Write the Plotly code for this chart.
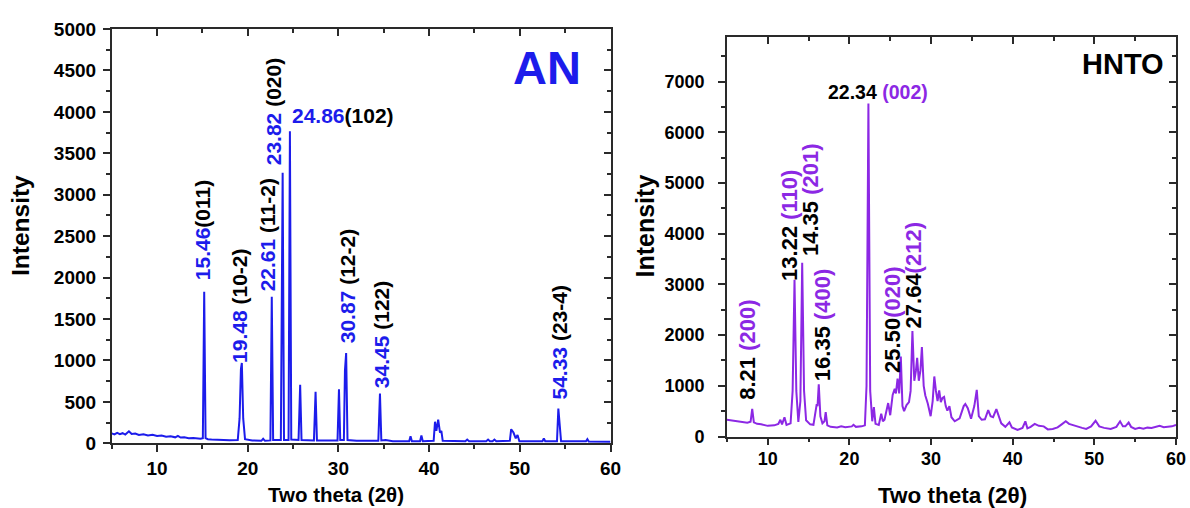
import plotly.graph_objects as go

W, H = 1190, 508

# ---------------- AN pattern (left) ----------------
an_theta = [5.0, 5.3, 5.6, 5.9, 6.2, 6.5, 6.9, 7.2, 7.6, 8.0, 8.5, 9.0, 9.5, 10.0, 10.5, 11.0,
            11.5, 12.0, 12.3, 12.6, 13.0, 13.5, 14.0, 14.5, 14.8, 15.05,
            15.2, 15.35, 15.6, 16.0, 17.0, 18.0, 18.9, 19.1, 19.25, 19.35, 19.5, 19.7, 20.5,
            21.5, 21.7, 21.9, 22.5, 22.65, 22.8, 23.65, 23.85, 24.0, 24.5, 24.65, 24.8, 25.6,
            25.78, 25.93, 27.3, 27.48, 27.63, 29.9, 30.06, 30.2, 30.6, 30.72, 30.85, 31.0,
            32.0, 34.4, 34.58, 34.73, 35.2, 36.0, 37.8, 37.95, 38.1, 39.0, 39.15, 39.3, 40.5,
            40.65, 40.8, 41.0, 41.2, 41.35, 41.5, 44.0, 44.2, 44.4, 46.3, 46.5, 46.7, 47.0,
            47.2, 47.4, 48.9, 49.05, 49.3, 49.55, 49.75, 49.95, 52.5, 52.65, 52.8, 54.1, 54.25,
            54.4, 54.55, 57.3, 57.45, 57.6, 60.0]
an_counts = [120, 108, 126, 110, 122, 105, 145, 112, 118, 100, 110, 95, 102, 88, 95, 80,
             84, 72, 90, 70, 72, 62, 64, 55, 55, 62,
             1830, 62, 50, 45, 40, 38, 40, 300, 900, 970, 300, 50, 35,
             30, 55, 30, 35, 1770, 40, 40, 3265, 40, 40, 3765, 45, 40,
             705, 40, 35, 623, 35, 35, 652, 40, 40, 880, 1090, 40,
             30, 30, 600, 35, 40, 25, 25, 85, 25, 25, 95, 25, 30,
             260, 150, 285, 130, 150, 30, 25, 45, 25, 25, 45, 25, 25,
             45, 25, 30, 170, 130, 60, 100, 25, 25, 60, 25, 25, 420,
             250, 25, 25, 50, 22, 20]

an_label_num = ["15.46", "19.48", "22.61", "23.82", "30.87", "34.45", "54.33"]
an_label_hkl = ["(011)", " (10-2)", " (11-2)", " (020)", " (12-2)", " (122)", " (23-4)"]
an_label_x = [15.10, 19.15, 22.12, 22.78, 31.09, 34.77, 54.41]
an_label_y = [1948, 946, 1815, 3337, 1187, 644, 502]
an_h_label_num = "24.86"
an_h_label_hkl = "(102)"
an_h_label_pos = (24.66, 3953)

an_xticks = [10, 20, 30, 40, 50, 60]
an_yticks = [0, 500, 1000, 1500, 2000, 2500, 3000, 3500, 4000, 4500, 5000]

# ---------------- HNTO pattern (right) ----------------
hn_theta = [5.0, 5.5, 6.0, 6.5, 7.0, 7.5, 7.9, 8.1, 8.3, 8.7, 9.2, 10.0, 10.8, 11.3, 11.55,
            11.75, 12.05, 12.3, 12.8, 13.05, 13.28, 13.5, 13.75, 14.0, 14.22, 14.45, 14.7,
            15.2, 15.6, 15.9, 16.0, 16.1, 16.25, 16.45, 16.7, 16.95, 17.1, 17.3, 17.7, 18.5,
            19.0, 19.5, 20.3, 20.5, 20.8, 21.5, 21.9, 22.1, 22.33, 22.55, 22.8, 23.0, 23.2,
            23.6, 23.9, 24.1, 24.3, 24.75, 25.0, 25.3, 25.55, 25.7, 25.9, 26.1, 26.3, 26.5,
            26.7, 27.0, 27.3, 27.5, 27.72, 27.95, 28.15, 28.3, 28.5, 28.7, 28.88, 29.1, 29.3,
            29.6, 29.95, 30.2, 30.4, 30.6, 30.8, 31.0, 31.2, 31.4, 31.6, 31.8, 32.0, 32.25,
            32.5, 32.9, 33.5, 34.0, 34.2, 34.5, 34.9, 35.3, 35.6, 35.85, 36.2, 36.6, 37.0,
            37.3, 37.6, 38.0, 38.3, 38.6, 39.1, 39.6, 39.9, 40.6, 41.2, 41.55, 41.8, 42.2,
            42.7, 43.2, 43.8, 44.3, 44.9, 45.5, 46.0, 46.5, 46.9, 47.5, 48.0, 48.5, 49.0,
            49.6, 50.15, 50.6, 51.2, 52.0, 52.7, 53.15, 53.5, 53.8, 54.2, 54.5, 55.0, 55.5,
            56.0, 56.5, 57.0, 57.5, 58.0, 58.5, 59.0, 59.5, 60.0]
hn_counts = [330, 320, 310, 300, 285, 270, 290, 546, 280, 250, 240, 210, 220, 250, 330,
             240, 380, 230, 260, 900, 3094, 900, 290, 700, 3430, 900, 320,
             240, 230, 560, 640, 600, 1030, 400, 260, 300, 480, 220, 190, 180,
             200, 185, 200, 230, 190, 200, 220, 1000, 6572, 900, 300, 580, 250,
             230, 450, 300, 330, 660, 420, 820, 940, 850, 1140, 850, 1580, 600,
             500, 620, 680, 900, 2080, 1100, 1300, 1553, 1100, 1300, 1764, 1000, 810,
             650, 400, 700, 1185, 900, 700, 909, 680, 760, 780, 600, 510, 600,
             380, 300, 360, 600, 640, 560, 350, 600, 920, 400, 330, 340, 520,
             400, 380, 540, 400, 260, 190, 280, 180, 130, 170, 300, 160, 190,
             250, 210, 200, 140, 150, 180, 240, 300, 250, 220, 180, 170, 150,
             200, 310, 200, 170, 150, 190, 300, 200, 200, 275, 190, 150, 170,
             155, 175, 170, 190, 210, 185, 190, 200, 230]

hn_label_num = ["8.21", "13.22", "14.35", "16.35", "25.50", "27.64"]
hn_label_hkl = [" (200)", " (110)", " (201)", " (400)", "(020)", "(212)"]
hn_label_x = [7.59, 12.73, 15.31, 16.81, 25.20, 27.84]
hn_label_y = [686, 3022, 3515, 1049, 1213, 2101]
hn_h_label_num = "22.34"
hn_h_label_hkl = " (002)"
hn_h_label_pos = (23.46, 6789)

hn_xticks = [10, 20, 30, 40, 50, 60]
hn_yticks = [0, 1000, 2000, 3000, 4000, 5000, 6000, 7000]

# ---------------- styling ----------------
FONT = "Liberation Sans, Arial, sans-serif"
BLUE = "rgb(28,28,235)"
PURPLE = "rgb(140,40,228)"
AXC = "#2a2a2a"


def px(x):
    return x / W


def py(y):
    return 1 - y / H


fig = go.Figure()
fig.add_trace(go.Scatter(x=an_theta, y=an_counts, mode="lines",
                         line=dict(color=BLUE, width=2), xaxis="x", yaxis="y",
                         showlegend=False, hoverinfo="skip"))
fig.add_trace(go.Scatter(x=hn_theta, y=hn_counts, mode="lines",
                         line=dict(color=PURPLE, width=2), xaxis="x2", yaxis="y2",
                         showlegend=False, hoverinfo="skip"))
# dummy traces for mirrored inside-tick axes
fig.add_trace(go.Scatter(x=[], y=[], xaxis="x3", yaxis="y3", showlegend=False))
fig.add_trace(go.Scatter(x=[], y=[], xaxis="x4", yaxis="y4", showlegend=False))

xd1 = [px(111.7), px(610.5)]
yd1 = [py(443.3), py(29.0)]
xd2 = [px(726.9), px(1176.0)]
yd2 = [py(436.5), py(36.7)]
xr = [5, 60]
yr1 = [0, 5000]
yr2 = [0, 7890]


def base_axis(domain, rng, tickvals, mdtick, anchor, fs, standoff, **kw):
    d = dict(domain=domain, range=rng, tickmode="array", tickvals=tickvals,
             ticktext=[f"<b>{v}</b>" for v in tickvals], ticks="outside",
             ticklen=7, tickwidth=1.5, tickcolor=AXC, showline=True, linewidth=1.5,
             linecolor=AXC, mirror=True, showgrid=False, zeroline=False, anchor=anchor,
             automargin=False, ticklabelstandoff=standoff,
             tickfont=dict(family=FONT, size=fs, color="black"),
             minor=dict(ticks="outside", ticklen=4, dtick=mdtick, tick0=0,
                        tickwidth=1.5, tickcolor=AXC, showgrid=False))
    d.update(kw)
    return d


def mirror_axis(rng, dtick, mdtick, overlay, anchor, side):
    return dict(range=rng, overlaying=overlay, anchor=anchor, side=side,
                dtick=dtick, tick0=0, ticks="inside", ticklen=7, tickwidth=1.5,
                tickcolor=AXC, showticklabels=False, showline=False, showgrid=False,
                zeroline=False, automargin=False,
                minor=dict(ticks="inside", ticklen=4, dtick=mdtick, tick0=0,
                           tickwidth=1.5, tickcolor=AXC, showgrid=False))


fig.update_layout(
    template="none",
    width=W, height=H, margin=dict(l=0, r=0, t=0, b=0, pad=0),
    paper_bgcolor="white", plot_bgcolor="white",
    font=dict(family=FONT, color="black"),
    xaxis=base_axis(xd1, xr, an_xticks, 5, "y", 19, 0),
    yaxis=base_axis(yd1, yr1, an_yticks, 250, "x", 19, 3),
    xaxis2=base_axis(xd2, xr, hn_xticks, 5, "y2", 18, -2),
    yaxis2=base_axis(yd2, yr2, hn_yticks, 500, "x2", 18, 10),
    xaxis3=mirror_axis(xr, 10, 5, "x", "y3", "top"),
    yaxis3=mirror_axis(yr1, 500, 250, "y", "x3", "right"),
    xaxis4=mirror_axis(xr, 10, 5, "x2", "y4", "top"),
    yaxis4=mirror_axis(yr2, 1000, 500, "y2", "x4", "right"),
)

ann = []
# vertical peak labels, AN
for num, hkl, x, y in zip(an_label_num, an_label_hkl, an_label_x, an_label_y):
    ann.append(dict(x=x, y=y, xref="x", yref="y", xanchor="center", yanchor="bottom",
                    textangle=-90, showarrow=False,
                    text=f"<b><span style='color:{BLUE}'>{num}</span>{hkl}</b>",
                    font=dict(family=FONT, size=21, color="black")))
ann.append(dict(x=an_h_label_pos[0], y=an_h_label_pos[1], xref="x", yref="y",
                xanchor="left", yanchor="middle", showarrow=False,
                text=f"<b><span style='color:{BLUE}'>{an_h_label_num}</span>{an_h_label_hkl}</b>",
                font=dict(family=FONT, size=21, color="black")))
# vertical peak labels, HNTO
for num, hkl, x, y in zip(hn_label_num, hn_label_hkl, hn_label_x, hn_label_y):
    ann.append(dict(x=x, y=y, xref="x2", yref="y2", xanchor="center", yanchor="bottom",
                    textangle=-90, showarrow=False,
                    text=f"<b>{num}<span style='color:{PURPLE}'>{hkl}</span></b>",
                    font=dict(family=FONT, size=22, color="black")))
ann.append(dict(x=hn_h_label_pos[0], y=hn_h_label_pos[1], xref="x2", yref="y2",
                xanchor="center", yanchor="middle", showarrow=False,
                text=f"<b>{hn_h_label_num}<span style='color:{PURPLE}'>{hn_h_label_hkl}</span></b>",
                font=dict(family=FONT, size=19.5, color="black")))

# panel names
ann.append(dict(x=px(547), y=py(68), xref="paper", yref="paper", showarrow=False,
                xanchor="center", yanchor="middle", text="<b>AN</b>",
                font=dict(family=FONT, size=47, color=BLUE)))
ann.append(dict(x=px(1122.5), y=py(63.7), xref="paper", yref="paper", showarrow=False,
                xanchor="center", yanchor="middle", text="<b>HNTO</b>",
                font=dict(family=FONT, size=29, color="black")))

# axis titles
ann.append(dict(x=px(20), y=py(226), xref="paper", yref="paper", showarrow=False,
                xanchor="center", yanchor="middle", textangle=-90, text="<b>Intensity</b>",
                font=dict(family=FONT, size=24.5, color="black")))
ann.append(dict(x=px(335.5), y=py(494), xref="paper", yref="paper", showarrow=False,
                xanchor="center", yanchor="middle", text="<b>Two theta (2θ)</b>",
                font=dict(family=FONT, size=20.5, color="black")))
ann.append(dict(x=px(644.5), y=py(226), xref="paper", yref="paper", showarrow=False,
                xanchor="center", yanchor="middle", textangle=-90, text="<b>Intensity</b>",
                font=dict(family=FONT, size=25, color="black")))
ann.append(dict(x=px(952), y=py(495), xref="paper", yref="paper", showarrow=False,
                xanchor="center", yanchor="middle", text="<b>Two theta (2θ)</b>",
                font=dict(family=FONT, size=22.5, color="black")))

fig.update_layout(annotations=ann)
fig.write_html("out.html", config={"displayModeBar": False},
               post_script="document.body.style.margin='0';document.body.style.padding='0';")
